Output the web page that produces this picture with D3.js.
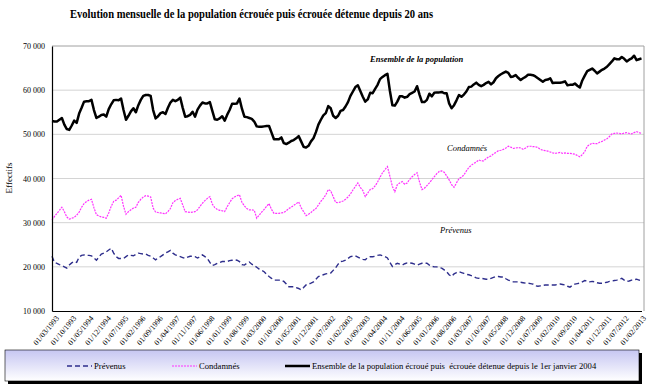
<!DOCTYPE html>
<html>
<head>
<meta charset="utf-8">
<script src="https://cdn.jsdelivr.net/npm/d3@7"></script>
<style>
body { margin: 0; background: #fff; }
svg { font-family: "Liberation Serif", "Times New Roman", serif; }
</style>
</head>
<body>
<svg id="chart" width="650" height="387"></svg>
<script>
// axis labels, one every 7 months starting 01/03/1993
let tickLabels = ["01/03/1993","01/10/1993","01/05/1994","01/12/1994","01/07/1995","01/02/1996","01/09/1996",
    "01/04/1997","01/11/1997","01/06/1998","01/01/1999","01/08/1999","01/03/2000","01/10/2000","01/05/2001",
    "01/12/2001","01/07/2002","01/02/2003","01/09/2003","01/04/2004","01/11/2004","01/06/2005","01/01/2006",
    "01/08/2006","01/03/2007","01/10/2007","01/05/2008","01/12/2008","01/07/2009","01/02/2010","01/09/2010",
    "01/04/2011","01/12/2011","01/07/2012","01/02/2013"];

let yTicks = [10000, 20000, 30000, 40000, 50000, 60000, 70000];

let prevenus = [22400,21000,20800,20500,20300,20000,19700,20400,20900,21200,21000,22200,22600,22700,22600,22600,
    22500,22000,21500,22200,22900,23100,23400,23800,24200,23100,22300,21900,21900,21900,22300,22700,22600,22500,
    22800,23100,23000,22900,22900,22600,22400,22000,21600,22000,22300,22700,23100,23400,23700,23100,22700,22500,
    22300,22100,21900,22200,22400,22400,22300,22000,22300,22700,22300,21900,21000,20300,20500,20800,21000,21200,
    21200,21200,21400,21500,21600,21500,21200,20500,20400,20800,21100,20600,20300,19900,19500,19200,18900,18300,
    17800,17400,17000,17000,17000,16900,16700,16100,15500,15500,15500,15300,15100,14800,15300,15900,16100,16300,
    16600,17200,17800,18000,18200,18400,18500,18600,19200,19800,20600,21200,21300,21500,21900,22300,22400,22500,
    22200,21900,21700,21600,22100,22300,22300,22400,22600,22700,22500,22300,22000,21000,20100,20500,20800,20600,
    20400,20700,20900,20900,20800,20600,20400,20600,20800,20800,20800,20400,20100,20000,20000,19800,19700,19300,
    18900,18200,17800,18400,18700,18900,18700,18500,18300,18200,18000,17800,17500,17400,17400,17300,17200,17200,
    17400,17600,17800,17800,17700,17700,17300,17000,16800,16600,16600,16600,16500,16400,16300,16300,16200,16100,
    15700,15600,15700,15800,15900,15900,15900,15900,15900,16000,16100,16000,15900,15600,15400,15800,16100,16200,
    16300,16600,16900,16800,16600,16700,16600,16400,16300,16300,16400,16500,16700,16800,16900,17000,17200,17400,
    17000,16700,16800,17000,17100,17200,17000,16900];

let condamnes = [30600,31400,32100,32800,33500,32500,31300,30800,31000,31200,31700,32400,33500,34300,34800,35100,
    35300,33400,31800,31500,31300,31200,31000,32200,33700,34800,35100,35600,36200,33700,31900,32500,32900,33300,
    33500,34600,35300,35800,36100,36000,35800,33300,32400,32300,32200,32100,32000,32500,33200,34500,35000,35300,
    35500,34000,32500,32400,32300,32400,32500,32900,33700,34400,35000,35500,35900,34200,33400,33000,32800,32700,
    32500,33600,34500,35400,35800,36100,36300,34600,33800,33200,32900,32900,32800,31000,31700,32400,33000,33700,
    34300,33000,32100,32100,32100,32200,32300,32700,33200,33500,33900,34300,34700,33400,32500,31600,31900,32300,
    32800,33200,34000,34800,35500,36300,37500,37200,35900,34600,34500,34700,34900,35300,35800,36500,37400,38200,
    39000,38000,37300,35900,36700,37500,37700,38300,39200,40300,41300,42000,42700,40500,38200,37000,38600,39000,
    39300,38700,39000,39800,40400,40900,41300,39200,37500,37800,38400,39000,39700,40400,41100,41600,41700,41400,
    40600,39700,38600,38000,39000,40000,40300,40800,41700,42500,43000,43400,43700,44200,44000,44000,44500,44900,
    45100,45600,45900,46300,46400,46600,46900,47300,47100,46800,46900,47000,46900,46600,46900,47300,47300,47200,
    47200,47000,46600,46400,46300,46200,46000,45800,45700,45800,45900,45700,45800,45700,45700,45600,45500,45200,
    44900,45400,46100,47300,47700,48000,47900,47900,48200,48400,48700,49000,49500,50100,50200,50300,50200,50100,
    50300,50400,50200,50100,50400,50600,50400,50200];

let ensemble = [53000,52900,52900,53300,53700,52200,51200,51000,52000,53100,52600,54700,56000,57400,57500,57500,
    57800,55500,53700,54000,54400,54500,54000,55700,56800,57700,57800,57700,58100,55500,53300,54200,55200,55900,
    55000,56600,57800,58700,58900,58900,58700,55500,53600,54100,54800,55000,54600,56000,57200,57800,57500,57800,
    58300,56000,54000,54100,54400,55100,54000,55600,56500,57200,57000,57000,57300,55300,53400,53300,53600,54100,
    53100,54400,55500,56900,56900,57000,58100,55800,54000,53900,53700,53500,52900,51800,51700,51700,51800,51900,
    51900,50400,48900,48900,48900,49300,48000,47800,48100,48500,48700,49100,49600,48400,47200,47000,47400,48400,
    49100,50500,52200,53300,54300,54800,56400,55900,54200,53700,54200,55300,55500,56300,57300,58700,59700,60700,
    61100,59800,58500,57400,57900,59400,59300,60300,61200,62500,63000,63400,63700,59800,56600,56500,57400,58600,
    58600,58300,58500,59100,59400,59700,60900,59000,57300,57300,57800,59200,58600,59400,59500,59500,59600,59300,
    59300,57000,55900,56600,57700,58900,58500,59000,59700,60700,60800,61300,61700,61200,60900,61200,61600,61900,
    61300,61800,62700,63200,63600,63900,64200,63900,63000,63100,63400,62800,62300,62700,63000,63500,63500,63400,
    63100,62700,62300,61900,62300,62400,62700,61600,61700,61700,61700,61800,62000,61100,61200,61200,61500,61000,
    60600,62200,63300,64300,64600,64900,64400,63800,64200,64600,64900,65300,65900,66500,67200,67000,67000,67500,
    67100,66500,66900,67200,67800,66800,67000,67200];

function main() {
    var svg = d3.select("#chart");
    var left = 52, right = 644, top = 46, bottom = 311;
    var n = ensemble.length;

    var x = d3.scaleLinear().domain([0, n - 1]).range([left, right - 2.5]);
    var y = d3.scaleLinear().domain([10000, 70000]).range([bottom, top]);
    var fmt = function(d) { return d3.format(",")(d).replace(",", " "); };

    // title
    svg.append("text")
        .attr("x", 70).attr("y", 18)
        .attr("textLength", 363).attr("lengthAdjust", "spacingAndGlyphs")
        .style("font-size", "13.5px").style("font-weight", "bold")
        .text("Evolution mensuelle de la population écrouée puis écrouée détenue depuis 20 ans");

    // gridlines
    svg.append("g").selectAll("line")
        .data(yTicks.filter(d => d > 10000 && d < 70000))
        .enter().append("line")
        .attr("x1", left).attr("x2", right)
        .attr("y1", d => y(d)).attr("y2", d => y(d))
        .attr("stroke", "#d4d4d4").attr("stroke-width", 1);

    // plot frame (top / right in grey)
    svg.append("path")
        .attr("d", "M" + left + "," + top + "H" + right + "V" + bottom)
        .attr("fill", "none").attr("stroke", "#a0a0a0").attr("stroke-width", 1);

    var lineGen = d3.line().x((d, i) => x(i)).y(d => y(d));

    svg.append("path").datum(prevenus)
        .attr("d", lineGen).attr("fill", "none")
        .attr("stroke", "#2e2e8c").attr("stroke-width", 1.4)
        .attr("stroke-dasharray", "5,3");

    svg.append("path").datum(condamnes)
        .attr("d", lineGen).attr("fill", "none")
        .attr("stroke", "#ff33ff").attr("stroke-width", 1.2)
        .attr("stroke-dasharray", "2,1");

    svg.append("path").datum(ensemble)
        .attr("d", lineGen).attr("fill", "none")
        .attr("stroke", "#000").attr("stroke-width", 2.5)
        .attr("stroke-linejoin", "round");

    // y axis
    var yAxis = svg.append("g")
        .attr("transform", "translate(" + left + ",0)")
        .call(d3.axisLeft(y).tickValues(yTicks).tickFormat(fmt).tickSize(0).tickPadding(7));
    yAxis.select(".domain").attr("stroke", "#000").attr("stroke-width", 1.2);
    yAxis.selectAll("text").style("font-size", "8px").style("font-family", "Liberation Serif").attr("fill", "#000");

    // x axis
    var xAxis = svg.append("g")
        .attr("transform", "translate(0," + bottom + ")")
        .call(d3.axisBottom(x)
            .tickValues(tickLabels.map((d, i) => i * 7))
            .tickFormat((d, i) => tickLabels[i])
            .tickSize(0).tickPadding(3));
    xAxis.select(".domain").attr("stroke", "#000").attr("stroke-width", 1.2);
    xAxis.selectAll("text")
        .style("font-size", "7.8px").style("font-family", "Liberation Serif").attr("fill", "#000")
        .attr("text-anchor", "end")
        .attr("dy", "0.3em")
        .attr("transform", "translate(3,4) rotate(-50)");

    svg.append("text")
        .attr("transform", "translate(12,178) rotate(-90)")
        .attr("text-anchor", "middle")
        .style("font-size", "9px")
        .text("Effectifs");

    // series annotations
    var notes = [
        { t: "Ensemble de la population", x: 370, y: 62, w: "bold" },
        { t: "Condamnés", x: 447, y: 151, w: "normal" },
        { t: "Prévenus", x: 440, y: 233, w: "normal" }
    ];
    svg.selectAll(".note").data(notes).enter().append("text")
        .attr("class", "note")
        .attr("x", d => d.x).attr("y", d => d.y)
        .style("font-size", "8.5px").style("font-style", "italic").style("font-weight", d => d.w)
        .text(d => d.t);

    // legend
    var defs = svg.append("defs");
    var grad = defs.append("linearGradient").attr("id", "lg").attr("x1", 0).attr("y1", 0).attr("x2", 0).attr("y2", 1);
    grad.append("stop").attr("offset", "0%").attr("stop-color", "#c6c6f2");
    grad.append("stop").attr("offset", "100%").attr("stop-color", "#ffffff");

    svg.append("rect").attr("x", 8).attr("y", 353).attr("width", 634).attr("height", 31).attr("fill", "#000");
    svg.append("rect").attr("x", 5).attr("y", 350).attr("width", 634).attr("height", 31)
        .attr("fill", "url(#lg)").attr("stroke", "#000").attr("stroke-width", 0.6);

    var legendItems = [
        { t: "Prévenus", x: 67, c: "#2e2e8c", dash: "5,3", w: 1.4 },
        { t: "Condamnés", x: 172, c: "#ff33ff", dash: "2,1", w: 1.2 },
        { t: "Ensemble de la population écroué puis  écrouée détenue depuis le 1er janvier 2004", x: 285, c: "#000", dash: null, w: 2.5 }
    ];
    var lg = svg.selectAll(".leg").data(legendItems).enter().append("g").attr("class", "leg");
    lg.append("line")
        .attr("x1", d => d.x).attr("x2", d => d.x + 25)
        .attr("y1", 366).attr("y2", 366)
        .attr("stroke", d => d.c).attr("stroke-width", d => d.w)
        .attr("stroke-dasharray", d => d.dash);
    lg.append("text")
        .attr("x", d => d.x + 27).attr("y", 369)
        .style("font-size", "8.6px").style("white-space", "pre")
        .text(d => d.t);
}

main();
</script>
</body>
</html>
